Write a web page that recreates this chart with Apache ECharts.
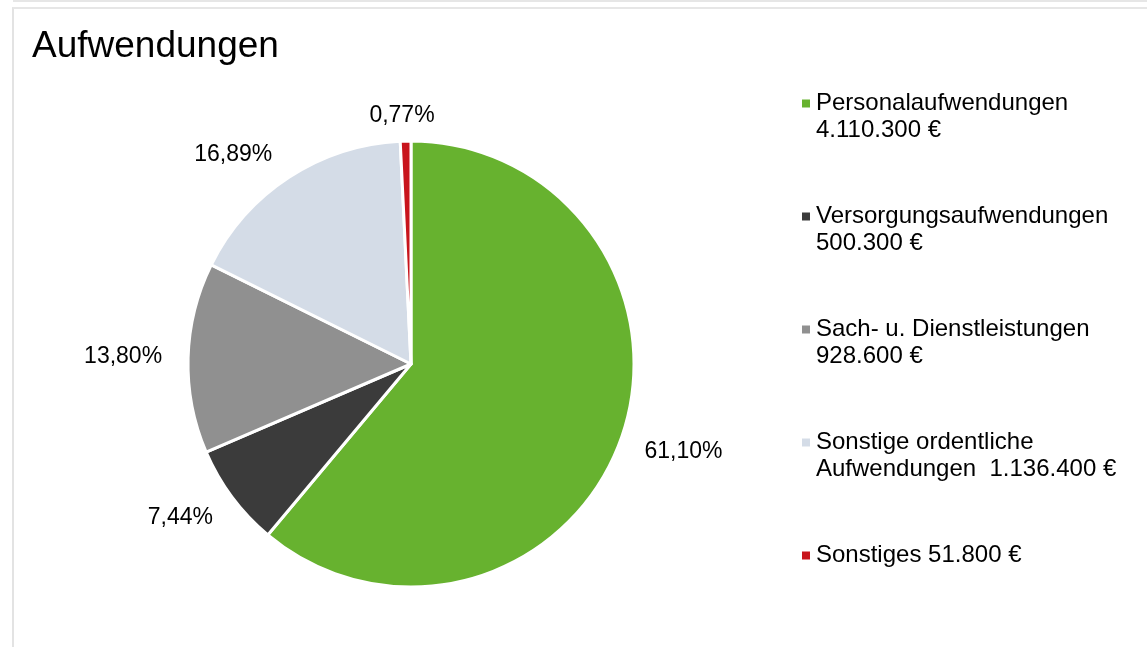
<!DOCTYPE html>
<html lang="de">
<head>
    <meta charset="UTF-8">
    <title>Aufwendungen</title>
    <script src="https://cdn.jsdelivr.net/npm/echarts@6/dist/echarts.min.js"></script>
    <style>
        body { margin: 0; background: #fff; }
        /* Rahmenlinien wie im Original */
        .band { position: absolute; left: 13px; top: 0; right: 0; height: 2px; background: #e6e6e6; }
        .frame { position: absolute; left: 12px; top: 7px; right: 0; bottom: 0;
                 border-top: 2px solid #e6e6e6; border-left: 2px solid #e3e3e3; }
        #main { position: absolute; left: 0; top: 0; width: 1147px; height: 647px; }
    </style>
</head>
<body>
<div class="band"></div>
<div class="frame"></div>
<div id="main"></div>
<script type="text/javascript">
    // Daten
    var categories = ['Personalaufwendungen', 'Versorgungsaufwendungen', 'Sach- u. Dienstleistungen',
        'Sonstige ordentliche Aufwendungen', 'Sonstiges'];
    var values = [4110300, 500300, 928600, 1136400, 51800];
    var legendLabels = ['Personalaufwendungen\n4.110.300 €', 'Versorgungsaufwendungen\n500.300 €',
        'Sach- u. Dienstleistungen\n928.600 €', 'Sonstige ordentliche\nAufwendungen  1.136.400 €',
        'Sonstiges 51.800 €'];
    var colors = ['#67b22f', '#3b3b3b', '#909090', '#d4dce7', '#c8141c'];

    var font = 'Liberation Sans, Arial, sans-serif';
    var myChart = echarts.init(document.getElementById('main'));

    var pieData = categories.map(function (c, i) {
        var item = { name: c, value: values[i], itemStyle: { color: colors[i] } };
        // einzelne Beschriftungen etwas nachjustieren
        if (i === 3) {
            item.label = { distanceToLabelLine: 2 };
            item.labelLine = { length: 27 };
        }
        if (i === 4) {
            item.label = { distanceToLabelLine: 3 };
            item.labelLine = { length: 25 };
        }
        return item;
    });

    var option = {
        animation: false,
        title: {
            text: 'Aufwendungen',
            left: 32,
            top: 28,
            padding: 0,
            textStyle: { fontFamily: font, fontSize: 37, fontWeight: 'normal', color: '#000' }
        },
        legend: {
            orient: 'vertical',
            left: 800,
            top: 63,
            itemWidth: 10,
            itemHeight: 10,
            itemGap: 32,
            icon: 'rect',
            padding: 0,
            selectedMode: false,
            textStyle: { fontFamily: font, fontSize: 24, color: '#000', lineHeight: 27 },
            formatter: function (name) {
                var t = legendLabels[categories.indexOf(name)];
                // Leerzeile oben, damit das Symbol an der ersten Zeile steht
                return t.indexOf('\n') >= 0 ? '\n' + t : '\n' + t + '\n';
            }
        },
        series: [{
            type: 'pie',
            center: [411, 364],
            radius: 223,
            startAngle: 90,
            clockwise: true,
            avoidLabelOverlap: false,
            itemStyle: { borderColor: '#fff', borderWidth: 3 },
            label: {
                show: true,
                position: 'outside',
                distanceToLabelLine: -9,
                fontFamily: font,
                fontSize: 23,
                color: '#000',
                formatter: function (p) {
                    return p.percent.toFixed(2).replace('.', ',') + '%';
                }
            },
            labelLine: { show: false, length: 35, length2: 0 },
            labelLayout: function (p) {
                if (p.dataIndex === 4) {
                    return { align: 'center' };
                }
            },
            emphasis: { disabled: true },
            data: pieData
        }]
    };
    myChart.setOption(option);
</script>
</body>
</html>
